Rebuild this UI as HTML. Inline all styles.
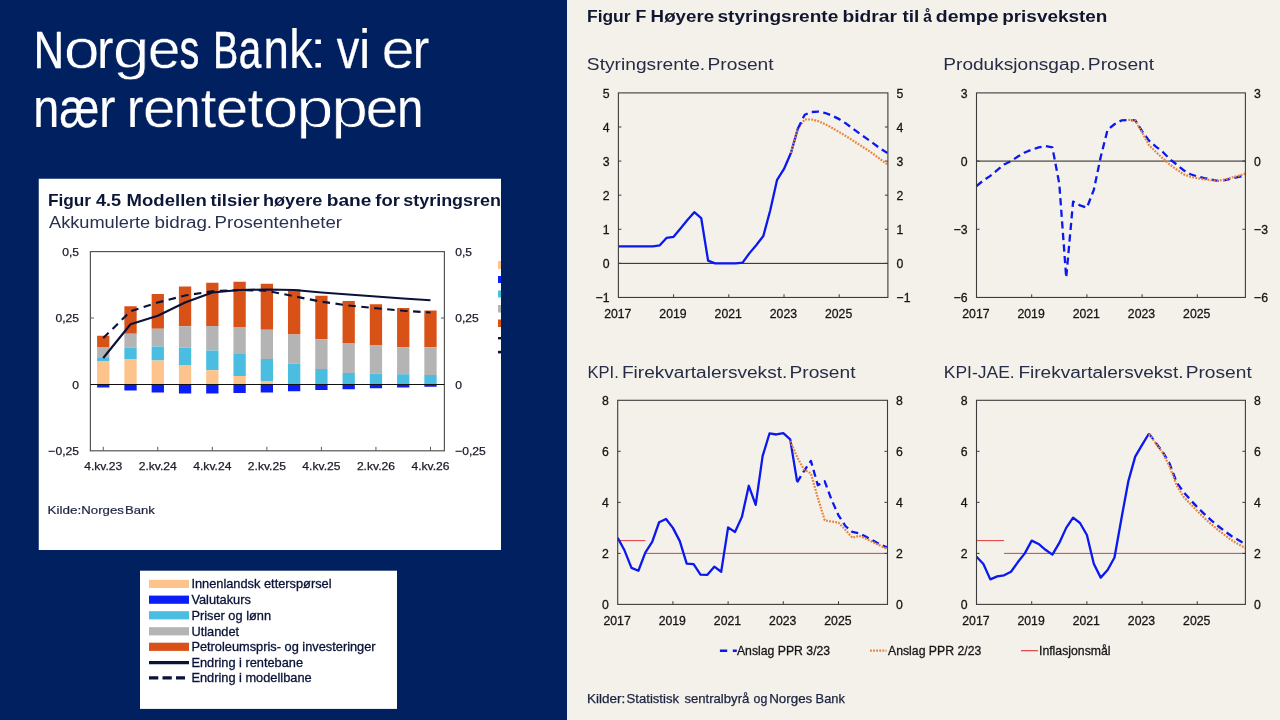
<!DOCTYPE html>
<html lang="no"><head><meta charset="utf-8"><title>Norges Bank: vi er nær rentetoppen</title>
<style>
html,body{margin:0;padding:0;width:1280px;height:720px;overflow:hidden;background:#002060;}
svg{display:block;position:absolute;left:0;top:0;font-family:"Liberation Sans", sans-serif;}
</style></head><body>
<svg width="1280" height="720" viewBox="0 0 1280 720">
<rect x="0" y="0" width="1280" height="720" fill="#002060"/>
<rect x="567" y="0" width="713" height="720" fill="#f4f1ea"/>
<rect x="38.75" y="178.75" width="462.25" height="371.25" fill="#ffffff"/>
<rect x="140" y="570.7" width="257" height="138.2" fill="#ffffff"/>
<text y="68.4" font-size="55" fill="#ffffff" stroke-linejoin="round"><tspan x="33.81" font-size="52.5" stroke="#ffffff" stroke-width="0.47" textLength="30.21" lengthAdjust="spacingAndGlyphs">N</tspan><tspan x="63.65" stroke="#002060" stroke-width="0.68" textLength="36.01" lengthAdjust="spacingAndGlyphs">o</tspan><tspan x="97.29" stroke="#ffffff" stroke-width="0.14" textLength="16.1" lengthAdjust="spacingAndGlyphs">r</tspan><tspan x="112.69" stroke="#002060" stroke-width="0.76" textLength="36.83" lengthAdjust="spacingAndGlyphs">g</tspan><tspan x="147.75" stroke="#002060" stroke-width="0.39" textLength="32.83" lengthAdjust="spacingAndGlyphs">e</tspan><tspan x="179.68" stroke="#ffffff" stroke-width="0.62" textLength="19.48" lengthAdjust="spacingAndGlyphs">s</tspan><tspan> </tspan><tspan x="213.26" font-size="52.5" stroke="#ffffff" stroke-width="0.70" textLength="24.9" lengthAdjust="spacingAndGlyphs">B</tspan><tspan x="238.83" stroke="#ffffff" stroke-width="0.54" textLength="22.47" lengthAdjust="spacingAndGlyphs">a</tspan><tspan x="263.48" stroke="#ffffff" stroke-width="0.28" textLength="25.41" lengthAdjust="spacingAndGlyphs">n</tspan><tspan x="289.31" stroke="#ffffff" stroke-width="0.23" textLength="23.32" lengthAdjust="spacingAndGlyphs">k</tspan><tspan x="307.8" stroke="#002060" stroke-width="1.19" textLength="20.78" lengthAdjust="spacingAndGlyphs">:</tspan><tspan> </tspan><tspan x="336.8" stroke="#ffffff" stroke-width="0.31" textLength="22.51" lengthAdjust="spacingAndGlyphs">v</tspan><tspan x="359.12" textLength="11.26" lengthAdjust="spacingAndGlyphs">i</tspan><tspan> </tspan><tspan x="381.53" stroke="#002060" stroke-width="0.43" textLength="33.18" lengthAdjust="spacingAndGlyphs">e</tspan><tspan x="412.7" stroke="#ffffff" stroke-width="0.09" textLength="16.5" lengthAdjust="spacingAndGlyphs">r</tspan></text>
<text y="126.7" font-size="55" fill="#ffffff" stroke-linejoin="round"><tspan x="33.21" stroke="#ffffff" stroke-width="0.23" textLength="25.94" lengthAdjust="spacingAndGlyphs">n</tspan><tspan x="59.48" stroke="#ffffff" stroke-width="0.33" textLength="39.67" lengthAdjust="spacingAndGlyphs">æ</tspan><tspan x="98.9" stroke="#ffffff" stroke-width="0.09" textLength="16.5" lengthAdjust="spacingAndGlyphs">r</tspan><tspan> </tspan><tspan x="127.0" stroke="#ffffff" stroke-width="0.09" textLength="16.5" lengthAdjust="spacingAndGlyphs">r</tspan><tspan x="142.97" stroke="#002060" stroke-width="0.37" textLength="32.59" lengthAdjust="spacingAndGlyphs">e</tspan><tspan x="174.27" stroke="#ffffff" stroke-width="0.24" textLength="25.87" lengthAdjust="spacingAndGlyphs">n</tspan><tspan x="200.78" stroke="#002060" stroke-width="0.25" textLength="15.61" lengthAdjust="spacingAndGlyphs">t</tspan><tspan x="215.87" stroke="#002060" stroke-width="0.37" textLength="32.59" lengthAdjust="spacingAndGlyphs">e</tspan><tspan x="247.46" stroke="#002060" stroke-width="0.31" textLength="15.94" lengthAdjust="spacingAndGlyphs">t</tspan><tspan x="262.67" stroke="#002060" stroke-width="0.66" textLength="35.71" lengthAdjust="spacingAndGlyphs">o</tspan><tspan x="296.15" stroke="#002060" stroke-width="0.79" textLength="37.2" lengthAdjust="spacingAndGlyphs">p</tspan><tspan x="331.19" stroke="#002060" stroke-width="0.76" textLength="36.83" lengthAdjust="spacingAndGlyphs">p</tspan><tspan x="365.49" stroke="#002060" stroke-width="0.41" textLength="33.01" lengthAdjust="spacingAndGlyphs">e</tspan><tspan x="397.31" stroke="#ffffff" stroke-width="0.23" textLength="25.94" lengthAdjust="spacingAndGlyphs">n</tspan></text>
<svg x="38.75" y="178.75" width="462.25" height="371.25" viewBox="38.75 178.75 462.25 371.25">
<text x="47.96" y="205.75" font-size="16.6" font-weight="700" textLength="43.14" lengthAdjust="spacingAndGlyphs" fill="#0c1738">Figur</text>
<text x="95.9" y="205.75" font-size="16.6" font-weight="700" textLength="25.19" lengthAdjust="spacingAndGlyphs" fill="#0c1738">4.5</text>
<text x="126.63" y="205.75" font-size="16.6" font-weight="700" textLength="80.3" lengthAdjust="spacingAndGlyphs" fill="#0c1738">Modellen</text>
<text x="210.6" y="205.75" font-size="16.6" font-weight="700" textLength="49.11" lengthAdjust="spacingAndGlyphs" fill="#0c1738">tilsier</text>
<text x="263.01" y="205.75" font-size="16.6" font-weight="700" textLength="59.35" lengthAdjust="spacingAndGlyphs" fill="#0c1738">høyere</text>
<text x="326.75" y="205.75" font-size="16.6" font-weight="700" textLength="44.7" lengthAdjust="spacingAndGlyphs" fill="#0c1738">bane</text>
<text x="375.3" y="205.75" font-size="16.6" font-weight="700" textLength="24.54" lengthAdjust="spacingAndGlyphs" fill="#0c1738">for</text>
<text x="403.32" y="205.75" font-size="16.6" font-weight="700" textLength="124.46" lengthAdjust="spacingAndGlyphs" fill="#0c1738">styringsrenten</text>
<text x="49.0" y="228.25" font-size="16" textLength="101.15" lengthAdjust="spacingAndGlyphs" fill="#27304f">Akkumulerte</text>
<text x="154.52" y="228.25" font-size="16" textLength="57.56" lengthAdjust="spacingAndGlyphs" fill="#27304f">bidrag.</text>
<text x="214.53" y="228.25" font-size="16" textLength="127.54" lengthAdjust="spacingAndGlyphs" fill="#27304f">Prosentenheter</text>
<rect x="498" y="261" width="6" height="8" fill="#fcc48c"/>
<rect x="498" y="276" width="6" height="7" fill="#0a1ef5"/>
<rect x="498" y="290.5" width="6" height="7.0" fill="#4bbde0"/>
<rect x="498" y="305" width="6" height="7.5" fill="#b4b4b4"/>
<rect x="498" y="319.5" width="6" height="7.5" fill="#d85218"/>
<rect x="498" y="337" width="6" height="2.4" fill="#0a1238"/><rect x="498" y="350.8" width="6" height="2.6" fill="#0a1238"/>
</svg>
<rect x="97.10" y="335.75" width="12.3" height="11.25" fill="#d85218"/>
<rect x="97.10" y="347.00" width="12.3" height="11.00" fill="#b4b4b4"/>
<rect x="97.10" y="358.00" width="12.3" height="3.50" fill="#4bbde0"/>
<rect x="97.10" y="361.50" width="12.3" height="23.00" fill="#fcc48c"/>
<rect x="97.10" y="384.50" width="12.3" height="3.00" fill="#0a1ef5"/>
<rect x="124.37" y="306.25" width="12.3" height="27.50" fill="#d85218"/>
<rect x="124.37" y="333.75" width="12.3" height="14.00" fill="#b4b4b4"/>
<rect x="124.37" y="347.75" width="12.3" height="11.25" fill="#4bbde0"/>
<rect x="124.37" y="359.00" width="12.3" height="25.50" fill="#fcc48c"/>
<rect x="124.37" y="384.50" width="12.3" height="6.00" fill="#0a1ef5"/>
<rect x="151.64" y="294.00" width="12.3" height="34.75" fill="#d85218"/>
<rect x="151.64" y="328.75" width="12.3" height="17.75" fill="#b4b4b4"/>
<rect x="151.64" y="346.50" width="12.3" height="14.00" fill="#4bbde0"/>
<rect x="151.64" y="360.50" width="12.3" height="24.00" fill="#fcc48c"/>
<rect x="151.64" y="384.50" width="12.3" height="8.00" fill="#0a1ef5"/>
<rect x="178.91" y="286.50" width="12.3" height="39.75" fill="#d85218"/>
<rect x="178.91" y="326.25" width="12.3" height="21.50" fill="#b4b4b4"/>
<rect x="178.91" y="347.75" width="12.3" height="17.25" fill="#4bbde0"/>
<rect x="178.91" y="365.00" width="12.3" height="19.50" fill="#fcc48c"/>
<rect x="178.91" y="384.50" width="12.3" height="9.00" fill="#0a1ef5"/>
<rect x="206.18" y="282.75" width="12.3" height="43.25" fill="#d85218"/>
<rect x="206.18" y="326.00" width="12.3" height="24.50" fill="#b4b4b4"/>
<rect x="206.18" y="350.50" width="12.3" height="19.75" fill="#4bbde0"/>
<rect x="206.18" y="370.25" width="12.3" height="14.25" fill="#fcc48c"/>
<rect x="206.18" y="384.50" width="12.3" height="9.00" fill="#0a1ef5"/>
<rect x="233.45" y="281.75" width="12.3" height="45.25" fill="#d85218"/>
<rect x="233.45" y="327.00" width="12.3" height="27.00" fill="#b4b4b4"/>
<rect x="233.45" y="354.00" width="12.3" height="22.00" fill="#4bbde0"/>
<rect x="233.45" y="376.00" width="12.3" height="8.50" fill="#fcc48c"/>
<rect x="233.45" y="384.50" width="12.3" height="8.50" fill="#0a1ef5"/>
<rect x="260.72" y="283.75" width="12.3" height="46.00" fill="#d85218"/>
<rect x="260.72" y="329.75" width="12.3" height="29.25" fill="#b4b4b4"/>
<rect x="260.72" y="359.00" width="12.3" height="22.00" fill="#4bbde0"/>
<rect x="260.72" y="381.00" width="12.3" height="3.50" fill="#fcc48c"/>
<rect x="260.72" y="384.50" width="12.3" height="8.00" fill="#0a1ef5"/>
<rect x="287.99" y="289.25" width="12.3" height="45.25" fill="#d85218"/>
<rect x="287.99" y="334.50" width="12.3" height="29.25" fill="#b4b4b4"/>
<rect x="287.99" y="363.75" width="12.3" height="20.75" fill="#4bbde0"/>
<rect x="287.99" y="384.50" width="12.3" height="6.75" fill="#0a1ef5"/>
<rect x="315.26" y="295.75" width="12.3" height="43.50" fill="#d85218"/>
<rect x="315.26" y="339.25" width="12.3" height="29.75" fill="#b4b4b4"/>
<rect x="315.26" y="369.00" width="12.3" height="15.50" fill="#4bbde0"/>
<rect x="315.26" y="384.50" width="12.3" height="5.50" fill="#0a1ef5"/>
<rect x="342.53" y="301.00" width="12.3" height="42.00" fill="#d85218"/>
<rect x="342.53" y="343.00" width="12.3" height="30.00" fill="#b4b4b4"/>
<rect x="342.53" y="373.00" width="12.3" height="11.50" fill="#4bbde0"/>
<rect x="342.53" y="384.50" width="12.3" height="4.75" fill="#0a1ef5"/>
<rect x="369.80" y="304.25" width="12.3" height="41.25" fill="#d85218"/>
<rect x="369.80" y="345.50" width="12.3" height="28.00" fill="#b4b4b4"/>
<rect x="369.80" y="373.50" width="12.3" height="11.00" fill="#4bbde0"/>
<rect x="369.80" y="384.50" width="12.3" height="3.75" fill="#0a1ef5"/>
<rect x="397.07" y="308.00" width="12.3" height="39.25" fill="#d85218"/>
<rect x="397.07" y="347.25" width="12.3" height="27.00" fill="#b4b4b4"/>
<rect x="397.07" y="374.25" width="12.3" height="10.25" fill="#4bbde0"/>
<rect x="397.07" y="384.50" width="12.3" height="3.00" fill="#0a1ef5"/>
<rect x="424.34" y="310.50" width="12.3" height="36.75" fill="#d85218"/>
<rect x="424.34" y="347.25" width="12.3" height="27.75" fill="#b4b4b4"/>
<rect x="424.34" y="375.00" width="12.3" height="9.50" fill="#4bbde0"/>
<rect x="424.34" y="384.50" width="12.3" height="2.25" fill="#0a1ef5"/>
<rect x="90.4" y="251.6" width="354.0" height="199.20000000000002" fill="none" stroke="#555" stroke-width="1.2"/>
<line x1="90.4" y1="384.5" x2="444.4" y2="384.5" stroke="#111" stroke-width="1.1"/>
<path d="M90.4 318h3.5M444.4 318h-3.5" stroke="#5a5a5a" stroke-width="1" fill="none"/>
<line x1="103.25" y1="450.8" x2="103.25" y2="446.8" stroke="#5a5a5a" stroke-width="1"/>
<line x1="157.79" y1="450.8" x2="157.79" y2="446.8" stroke="#5a5a5a" stroke-width="1"/>
<line x1="212.33" y1="450.8" x2="212.33" y2="446.8" stroke="#5a5a5a" stroke-width="1"/>
<line x1="266.87" y1="450.8" x2="266.87" y2="446.8" stroke="#5a5a5a" stroke-width="1"/>
<line x1="321.41" y1="450.8" x2="321.41" y2="446.8" stroke="#5a5a5a" stroke-width="1"/>
<line x1="375.95" y1="450.8" x2="375.95" y2="446.8" stroke="#5a5a5a" stroke-width="1"/>
<line x1="430.49" y1="450.8" x2="430.49" y2="446.8" stroke="#5a5a5a" stroke-width="1"/>
<polyline points="103.25,358.00 130.52,324.25 157.79,315.75 185.06,302.50 212.33,292.50 239.60,290.00 266.87,289.50 294.14,290.00 321.41,292.50 348.68,294.50 375.95,296.50 403.22,298.50 430.49,300.25" fill="none" stroke="#0a1238" stroke-width="2.15" stroke-linejoin="round"/>
<polyline points="103.25,338.00 130.52,311.25 157.79,302.50 185.06,295.50 212.33,291.25 239.60,290.00 266.87,290.75 294.14,296.25 321.41,301.75 348.68,305.50 375.95,308.25 403.22,310.75 430.49,312.50" fill="none" stroke="#0a1238" stroke-width="2.15" stroke-dasharray="7.5 5.5" stroke-linejoin="round"/>
<text x="79" y="256.1" font-size="11.5" text-anchor="end" textLength="16.81" lengthAdjust="spacingAndGlyphs" fill="#1a1a2a" stroke="#1a1a2a" stroke-width="0.25">0,5</text>
<text x="455.2" y="256.1" font-size="11.5" textLength="16.81" lengthAdjust="spacingAndGlyphs" fill="#1a1a2a" stroke="#1a1a2a" stroke-width="0.25">0,5</text>
<text x="79" y="322.3" font-size="11.5" text-anchor="end" textLength="23.55" lengthAdjust="spacingAndGlyphs" fill="#1a1a2a" stroke="#1a1a2a" stroke-width="0.25">0,25</text>
<text x="455.2" y="322.3" font-size="11.5" textLength="23.55" lengthAdjust="spacingAndGlyphs" fill="#1a1a2a" stroke="#1a1a2a" stroke-width="0.25">0,25</text>
<text x="79" y="388.8" font-size="11.5" text-anchor="end" textLength="6.73" lengthAdjust="spacingAndGlyphs" fill="#1a1a2a" stroke="#1a1a2a" stroke-width="0.25">0</text>
<text x="455.2" y="388.8" font-size="11.5" textLength="6.73" lengthAdjust="spacingAndGlyphs" fill="#1a1a2a" stroke="#1a1a2a" stroke-width="0.25">0</text>
<text x="79" y="455.3" font-size="11.5" text-anchor="end" textLength="30.61" lengthAdjust="spacingAndGlyphs" fill="#1a1a2a" stroke="#1a1a2a" stroke-width="0.25">−0,25</text>
<text x="455.2" y="455.3" font-size="11.5" textLength="30.61" lengthAdjust="spacingAndGlyphs" fill="#1a1a2a" stroke="#1a1a2a" stroke-width="0.25">−0,25</text>
<text x="103.25" y="470.2" font-size="11.5" text-anchor="middle" textLength="38.09" lengthAdjust="spacingAndGlyphs" fill="#1a1a2a" stroke="#1a1a2a" stroke-width="0.25">4.kv.23</text>
<text x="157.79" y="470.2" font-size="11.5" text-anchor="middle" textLength="38.09" lengthAdjust="spacingAndGlyphs" fill="#1a1a2a" stroke="#1a1a2a" stroke-width="0.25">2.kv.24</text>
<text x="212.33" y="470.2" font-size="11.5" text-anchor="middle" textLength="38.09" lengthAdjust="spacingAndGlyphs" fill="#1a1a2a" stroke="#1a1a2a" stroke-width="0.25">4.kv.24</text>
<text x="266.87" y="470.2" font-size="11.5" text-anchor="middle" textLength="38.09" lengthAdjust="spacingAndGlyphs" fill="#1a1a2a" stroke="#1a1a2a" stroke-width="0.25">2.kv.25</text>
<text x="321.41" y="470.2" font-size="11.5" text-anchor="middle" textLength="38.09" lengthAdjust="spacingAndGlyphs" fill="#1a1a2a" stroke="#1a1a2a" stroke-width="0.25">4.kv.25</text>
<text x="375.95" y="470.2" font-size="11.5" text-anchor="middle" textLength="38.09" lengthAdjust="spacingAndGlyphs" fill="#1a1a2a" stroke="#1a1a2a" stroke-width="0.25">2.kv.26</text>
<text x="430.49" y="470.2" font-size="11.5" text-anchor="middle" textLength="38.09" lengthAdjust="spacingAndGlyphs" fill="#1a1a2a" stroke="#1a1a2a" stroke-width="0.25">4.kv.26</text>
<text x="47.55" y="513.75" font-size="11.2" textLength="33.65" lengthAdjust="spacingAndGlyphs" fill="#1c2340" stroke="#1c2340" stroke-width="0.2">Kilde:</text>
<text x="81.32" y="513.75" font-size="11.2" textLength="42.52" lengthAdjust="spacingAndGlyphs" fill="#1c2340" stroke="#1c2340" stroke-width="0.2">Norges</text>
<text x="125.08" y="513.75" font-size="11.2" textLength="29.75" lengthAdjust="spacingAndGlyphs" fill="#1c2340" stroke="#1c2340" stroke-width="0.2">Bank</text>
<rect x="149" y="579.80" width="40" height="8.2" fill="#fcc48c"/>
<text x="191.4" y="588.2" font-size="12.8" fill="#0a1238" stroke="#0a1238" stroke-width="0.3">Innenlandsk etterspørsel</text>
<rect x="149" y="595.60" width="40" height="8.2" fill="#0a1ef5"/>
<text x="191.4" y="604" font-size="12.8" fill="#0a1238" stroke="#0a1238" stroke-width="0.3">Valutakurs</text>
<rect x="149" y="611.20" width="40" height="8.2" fill="#4bbde0"/>
<text x="191.4" y="619.6" font-size="12.8" fill="#0a1238" stroke="#0a1238" stroke-width="0.3">Priser og lønn</text>
<rect x="149" y="627.20" width="40" height="8.2" fill="#b4b4b4"/>
<text x="191.4" y="635.6" font-size="12.8" fill="#0a1238" stroke="#0a1238" stroke-width="0.3">Utlandet</text>
<rect x="149" y="642.70" width="40" height="8.2" fill="#d85218"/>
<text x="191.4" y="651.1" font-size="12.8" fill="#0a1238" stroke="#0a1238" stroke-width="0.3">Petroleumspris- og investeringer</text>
<line x1="149" y1="662.6" x2="189" y2="662.6" stroke="#0a1238" stroke-width="3.2"/>
<text x="191.4" y="666.7" font-size="12.8" fill="#0a1238" stroke="#0a1238" stroke-width="0.3">Endring i rentebane</text>
<line x1="149" y1="677.9000000000001" x2="185" y2="677.9000000000001" stroke="#0a1238" stroke-width="3.2" stroke-dasharray="9.3 4.2"/>
<text x="191.4" y="682.2" font-size="12.8" fill="#0a1238" stroke="#0a1238" stroke-width="0.3">Endring i modellbane</text>
<text x="586.99" y="21.8" font-size="17.2" font-weight="700" textLength="43.58" lengthAdjust="spacingAndGlyphs" fill="#10162f">Figur</text>
<text x="635.47" y="21.8" font-size="17.2" font-weight="700" textLength="10.85" lengthAdjust="spacingAndGlyphs" fill="#10162f">F</text>
<text x="650.61" y="21.8" font-size="17.2" font-weight="700" textLength="63.6" lengthAdjust="spacingAndGlyphs" fill="#10162f">Høyere</text>
<text x="717.49" y="21.8" font-size="17.2" font-weight="700" textLength="120.8" lengthAdjust="spacingAndGlyphs" fill="#10162f">styringsrente</text>
<text x="842.48" y="21.8" font-size="17.2" font-weight="700" textLength="54.5" lengthAdjust="spacingAndGlyphs" fill="#10162f">bidrar</text>
<text x="902.5" y="21.8" font-size="17.2" font-weight="700" textLength="16.81" lengthAdjust="spacingAndGlyphs" fill="#10162f">til</text>
<text x="923.3" y="21.8" font-size="17.2" font-weight="700" textLength="8.7" lengthAdjust="spacingAndGlyphs" fill="#10162f">å</text>
<text x="935.77" y="21.8" font-size="17.2" font-weight="700" textLength="62.79" lengthAdjust="spacingAndGlyphs" fill="#10162f">dempe</text>
<text x="1002.2" y="21.8" font-size="17.2" font-weight="700" textLength="105.2" lengthAdjust="spacingAndGlyphs" fill="#10162f">prisveksten</text>
<text x="586.89" y="69.7" font-size="17.3" textLength="118.31" lengthAdjust="spacingAndGlyphs" fill="#262c46">Styringsrente.</text>
<text x="707.59" y="69.7" font-size="17.3" textLength="66.03" lengthAdjust="spacingAndGlyphs" fill="#262c46">Prosent</text>
<text x="943.3" y="69.7" font-size="17.3" textLength="142.22" lengthAdjust="spacingAndGlyphs" fill="#262c46">Produksjonsgap.</text>
<text x="1087.89" y="69.7" font-size="17.3" textLength="66.24" lengthAdjust="spacingAndGlyphs" fill="#262c46">Prosent</text>
<text x="587.54" y="378.3" font-size="17.3" textLength="31.24" lengthAdjust="spacingAndGlyphs" fill="#262c46">KPI.</text>
<text x="621.9" y="378.3" font-size="17.3" textLength="165.41" lengthAdjust="spacingAndGlyphs" fill="#262c46">Firekvartalersvekst.</text>
<text x="789.49" y="378.3" font-size="17.3" textLength="66.03" lengthAdjust="spacingAndGlyphs" fill="#262c46">Prosent</text>
<text x="943.79" y="378.3" font-size="17.3" textLength="70.93" lengthAdjust="spacingAndGlyphs" fill="#262c46">KPI-JAE.</text>
<text x="1018.4" y="378.3" font-size="17.3" textLength="165.1" lengthAdjust="spacingAndGlyphs" fill="#262c46">Firekvartalersvekst.</text>
<text x="1185.69" y="378.3" font-size="17.3" textLength="66.03" lengthAdjust="spacingAndGlyphs" fill="#262c46">Prosent</text>
<line x1="618.4" y1="263.36" x2="887.9" y2="263.36" stroke="#222" stroke-width="1"/>
<svg x="618.4" y="90.9" width="269.5" height="208.54999999999998" viewBox="618.4 90.9 269.5 208.54999999999998">
<polyline points="618.40,246.31 625.30,246.31 632.20,246.31 639.10,246.31 646.00,246.31 652.90,246.31 659.80,245.29 666.70,237.79 673.60,236.77 680.50,228.58 687.40,220.06 694.30,212.22 701.20,218.02 708.10,260.63 715.00,263.36 721.90,263.36 728.80,263.36 735.70,263.36 742.60,262.68 749.50,253.13 756.40,244.95 763.30,236.08 770.20,210.52 777.10,179.83 784.00,168.92 790.90,153.07 797.80,128.70" fill="none" stroke="#0b18ee" stroke-width="2.3" stroke-linejoin="round" stroke-linecap="butt"/>
<polyline points="790.90,153.07 797.80,128.70 804.70,119.49 811.60,119.49 818.50,121.20 825.40,124.26 832.30,128.01 839.20,132.11 846.10,136.20 853.00,140.63 859.90,145.06 866.80,149.49 873.70,154.26 880.60,159.38 887.50,164.49" fill="none" stroke="#e8823a" stroke-width="2.2" stroke-dasharray="1.8 1.3" stroke-linejoin="round"/>
<polyline points="797.80,128.70 804.70,114.72 811.60,111.99 818.50,111.65 825.40,113.01 832.30,115.74 839.20,119.15 846.10,123.58 853.00,128.70 859.90,133.81 866.80,138.58 873.70,143.70 880.60,148.81 887.50,153.07" fill="none" stroke="#0b18ee" stroke-width="2.3" stroke-dasharray="7.2 4.4" stroke-linejoin="round"/>
</svg>
<rect x="618.4" y="92.9" width="269.5" height="204.54999999999998" fill="none" stroke="#3c3c3c" stroke-width="1.1"/>
<text x="609.6" y="302.20" font-size="13.2" text-anchor="end" textLength="13.97" lengthAdjust="spacingAndGlyphs" fill="#151515" stroke="#151515" stroke-width="0.3">−1</text>
<text x="896.5" y="302.20" font-size="13.2" textLength="13.97" lengthAdjust="spacingAndGlyphs" fill="#151515" stroke="#151515" stroke-width="0.3">−1</text>
<text x="609.6" y="268.11" font-size="13.2" text-anchor="end" textLength="6.83" lengthAdjust="spacingAndGlyphs" fill="#151515" stroke="#151515" stroke-width="0.3">0</text>
<text x="896.5" y="268.11" font-size="13.2" textLength="6.83" lengthAdjust="spacingAndGlyphs" fill="#151515" stroke="#151515" stroke-width="0.3">0</text>
<text x="609.6" y="234.02" font-size="13.2" text-anchor="end" textLength="6.83" lengthAdjust="spacingAndGlyphs" fill="#151515" stroke="#151515" stroke-width="0.3">1</text>
<text x="896.5" y="234.02" font-size="13.2" textLength="6.83" lengthAdjust="spacingAndGlyphs" fill="#151515" stroke="#151515" stroke-width="0.3">1</text>
<text x="609.6" y="199.93" font-size="13.2" text-anchor="end" textLength="6.83" lengthAdjust="spacingAndGlyphs" fill="#151515" stroke="#151515" stroke-width="0.3">2</text>
<text x="896.5" y="199.93" font-size="13.2" textLength="6.83" lengthAdjust="spacingAndGlyphs" fill="#151515" stroke="#151515" stroke-width="0.3">2</text>
<text x="609.6" y="165.83" font-size="13.2" text-anchor="end" textLength="6.83" lengthAdjust="spacingAndGlyphs" fill="#151515" stroke="#151515" stroke-width="0.3">3</text>
<text x="896.5" y="165.83" font-size="13.2" textLength="6.83" lengthAdjust="spacingAndGlyphs" fill="#151515" stroke="#151515" stroke-width="0.3">3</text>
<text x="609.6" y="131.74" font-size="13.2" text-anchor="end" textLength="6.83" lengthAdjust="spacingAndGlyphs" fill="#151515" stroke="#151515" stroke-width="0.3">4</text>
<text x="896.5" y="131.74" font-size="13.2" textLength="6.83" lengthAdjust="spacingAndGlyphs" fill="#151515" stroke="#151515" stroke-width="0.3">4</text>
<text x="609.6" y="97.65" font-size="13.2" text-anchor="end" textLength="6.83" lengthAdjust="spacingAndGlyphs" fill="#151515" stroke="#151515" stroke-width="0.3">5</text>
<text x="896.5" y="97.65" font-size="13.2" textLength="6.83" lengthAdjust="spacingAndGlyphs" fill="#151515" stroke="#151515" stroke-width="0.3">5</text>
<text x="617.80" y="317.75" font-size="13.2" text-anchor="middle" textLength="27.27" lengthAdjust="spacingAndGlyphs" fill="#151515" stroke="#151515" stroke-width="0.3">2017</text>
<text x="673.00" y="317.75" font-size="13.2" text-anchor="middle" textLength="27.27" lengthAdjust="spacingAndGlyphs" fill="#151515" stroke="#151515" stroke-width="0.3">2019</text>
<text x="728.20" y="317.75" font-size="13.2" text-anchor="middle" textLength="27.27" lengthAdjust="spacingAndGlyphs" fill="#151515" stroke="#151515" stroke-width="0.3">2021</text>
<text x="783.40" y="317.75" font-size="13.2" text-anchor="middle" textLength="27.27" lengthAdjust="spacingAndGlyphs" fill="#151515" stroke="#151515" stroke-width="0.3">2023</text>
<text x="838.60" y="317.75" font-size="13.2" text-anchor="middle" textLength="27.27" lengthAdjust="spacingAndGlyphs" fill="#151515" stroke="#151515" stroke-width="0.3">2025</text>
<path d="M618.4 263.36h3M887.9 263.36h-3M618.4 229.27h3M887.9 229.27h-3M618.4 195.18h3M887.9 195.18h-3M618.4 161.08h3M887.9 161.08h-3M618.4 126.99h3M887.9 126.99h-3M673.60 297.45v-3.2M728.80 297.45v-3.2M784.00 297.45v-3.2M839.20 297.45v-3.2" stroke="#3c3c3c" stroke-width="1" fill="none"/>
<line x1="976.5" y1="161.08" x2="1245.4" y2="161.08" stroke="#222" stroke-width="1"/>
<svg x="976.5" y="90.9" width="268.9000000000001" height="208.54999999999998" viewBox="976.5 90.9 268.9000000000001 208.54999999999998">
<polyline points="976.50,186.08 983.40,180.40 990.30,175.86 997.20,170.17 1004.10,164.49 1011.00,161.08 1017.90,156.54 1024.80,152.45 1031.70,149.72 1038.60,147.45 1045.50,146.08 1052.40,147.45 1059.30,183.81 1066.20,277.68 1073.10,201.54 1080.00,205.40 1086.90,207.68 1093.80,189.95 1100.70,156.99 1107.60,129.72 1114.50,124.26 1121.40,120.40 1128.30,119.95 1135.20,120.17 1142.10,131.08 1149.00,140.63 1155.90,146.54 1162.80,151.99 1169.70,159.04 1176.60,164.49 1183.50,170.17 1190.40,174.27 1197.30,176.42 1204.20,178.13 1211.10,179.49 1218.00,180.86 1224.90,180.17 1231.80,178.58 1238.70,176.99 1245.60,175.63" fill="none" stroke="#0b18ee" stroke-width="2.3" stroke-dasharray="7.2 4.4" stroke-linejoin="round"/>
<polyline points="1128.30,119.95 1135.20,120.17 1142.10,132.45 1149.00,145.17 1155.90,151.99 1162.80,158.36 1169.70,164.49 1176.60,169.49 1183.50,174.27 1190.40,176.77 1197.30,178.13 1204.20,179.27 1211.10,180.17 1218.00,180.86 1224.90,179.49 1231.80,177.45 1238.70,175.63 1245.60,173.58" fill="none" stroke="#e8823a" stroke-width="2.2" stroke-dasharray="1.8 1.3" stroke-linejoin="round"/>
</svg>
<rect x="976.5" y="92.9" width="268.9000000000001" height="204.54999999999998" fill="none" stroke="#3c3c3c" stroke-width="1.1"/>
<text x="967.7" y="302.20" font-size="13.2" text-anchor="end" textLength="13.97" lengthAdjust="spacingAndGlyphs" fill="#151515" stroke="#151515" stroke-width="0.3">−6</text>
<text x="1254.0" y="302.20" font-size="13.2" textLength="13.97" lengthAdjust="spacingAndGlyphs" fill="#151515" stroke="#151515" stroke-width="0.3">−6</text>
<text x="967.7" y="234.02" font-size="13.2" text-anchor="end" textLength="13.97" lengthAdjust="spacingAndGlyphs" fill="#151515" stroke="#151515" stroke-width="0.3">−3</text>
<text x="1254.0" y="234.02" font-size="13.2" textLength="13.97" lengthAdjust="spacingAndGlyphs" fill="#151515" stroke="#151515" stroke-width="0.3">−3</text>
<text x="967.7" y="165.83" font-size="13.2" text-anchor="end" textLength="6.83" lengthAdjust="spacingAndGlyphs" fill="#151515" stroke="#151515" stroke-width="0.3">0</text>
<text x="1254.0" y="165.83" font-size="13.2" textLength="6.83" lengthAdjust="spacingAndGlyphs" fill="#151515" stroke="#151515" stroke-width="0.3">0</text>
<text x="967.7" y="97.65" font-size="13.2" text-anchor="end" textLength="6.83" lengthAdjust="spacingAndGlyphs" fill="#151515" stroke="#151515" stroke-width="0.3">3</text>
<text x="1254.0" y="97.65" font-size="13.2" textLength="6.83" lengthAdjust="spacingAndGlyphs" fill="#151515" stroke="#151515" stroke-width="0.3">3</text>
<text x="975.90" y="317.75" font-size="13.2" text-anchor="middle" textLength="27.27" lengthAdjust="spacingAndGlyphs" fill="#151515" stroke="#151515" stroke-width="0.3">2017</text>
<text x="1031.10" y="317.75" font-size="13.2" text-anchor="middle" textLength="27.27" lengthAdjust="spacingAndGlyphs" fill="#151515" stroke="#151515" stroke-width="0.3">2019</text>
<text x="1086.30" y="317.75" font-size="13.2" text-anchor="middle" textLength="27.27" lengthAdjust="spacingAndGlyphs" fill="#151515" stroke="#151515" stroke-width="0.3">2021</text>
<text x="1141.50" y="317.75" font-size="13.2" text-anchor="middle" textLength="27.27" lengthAdjust="spacingAndGlyphs" fill="#151515" stroke="#151515" stroke-width="0.3">2023</text>
<text x="1196.70" y="317.75" font-size="13.2" text-anchor="middle" textLength="27.27" lengthAdjust="spacingAndGlyphs" fill="#151515" stroke="#151515" stroke-width="0.3">2025</text>
<path d="M976.5 229.27h3M1245.4 229.27h-3M976.5 161.08h3M1245.4 161.08h-3M1031.70 297.45v-3.2M1086.90 297.45v-3.2M1142.10 297.45v-3.2M1197.30 297.45v-3.2" stroke="#3c3c3c" stroke-width="1" fill="none"/>
<path d="M617.70 540.62H645.30M645.30 553.38H887.5" stroke="#e23030" stroke-width="0.95" fill="none"/>
<svg x="617.7" y="398.3" width="269.79999999999995" height="208.09999999999997" viewBox="617.7 398.3 269.79999999999995 208.09999999999997">
<polyline points="617.70,537.81 624.60,550.57 631.50,567.92 638.40,570.72 645.30,552.61 652.20,541.89 659.10,522.25 666.00,518.93 672.90,527.86 679.80,541.13 686.70,563.58 693.60,564.09 700.50,574.55 707.40,574.81 714.30,566.64 721.20,571.74 728.10,527.35 735.00,531.94 741.90,516.89 748.80,485.77 755.70,504.90 762.60,456.17 769.50,433.47 776.40,434.49 783.30,433.21 790.20,439.33 797.10,481.43" fill="none" stroke="#0b18ee" stroke-width="2.3" stroke-linejoin="round" stroke-linecap="butt"/>
<polyline points="797.10,482.30 804.00,471.00 810.90,460.90 817.80,485.20 824.70,481.30 831.60,499.80 838.50,515.30 845.40,526.00 852.30,531.90 859.20,533.40 866.10,536.70 873.00,540.60 879.90,544.50 886.80,547.40" fill="none" stroke="#0b18ee" stroke-width="2.3" stroke-dasharray="7.2 4.4" stroke-linejoin="round"/>
<polyline points="790.20,441.00 797.10,457.00 804.00,469.60 810.90,473.50 817.80,497.80 824.70,520.20 831.60,521.60 838.50,522.50 845.40,529.90 852.30,537.70 859.20,535.80 866.10,538.70 873.00,542.20 879.90,545.50 886.80,548.80" fill="none" stroke="#e8823a" stroke-width="2.2" stroke-dasharray="1.8 1.3" stroke-linejoin="round"/>
</svg>
<rect x="617.7" y="400.3" width="269.79999999999995" height="204.09999999999997" fill="none" stroke="#3c3c3c" stroke-width="1.1"/>
<text x="608.9000000000001" y="609.15" font-size="13.2" text-anchor="end" textLength="6.83" lengthAdjust="spacingAndGlyphs" fill="#151515" stroke="#151515" stroke-width="0.3">0</text>
<text x="896.1" y="609.15" font-size="13.2" textLength="6.83" lengthAdjust="spacingAndGlyphs" fill="#151515" stroke="#151515" stroke-width="0.3">0</text>
<text x="608.9000000000001" y="558.12" font-size="13.2" text-anchor="end" textLength="6.83" lengthAdjust="spacingAndGlyphs" fill="#151515" stroke="#151515" stroke-width="0.3">2</text>
<text x="896.1" y="558.12" font-size="13.2" textLength="6.83" lengthAdjust="spacingAndGlyphs" fill="#151515" stroke="#151515" stroke-width="0.3">2</text>
<text x="608.9000000000001" y="507.10" font-size="13.2" text-anchor="end" textLength="6.83" lengthAdjust="spacingAndGlyphs" fill="#151515" stroke="#151515" stroke-width="0.3">4</text>
<text x="896.1" y="507.10" font-size="13.2" textLength="6.83" lengthAdjust="spacingAndGlyphs" fill="#151515" stroke="#151515" stroke-width="0.3">4</text>
<text x="608.9000000000001" y="456.07" font-size="13.2" text-anchor="end" textLength="6.83" lengthAdjust="spacingAndGlyphs" fill="#151515" stroke="#151515" stroke-width="0.3">6</text>
<text x="896.1" y="456.07" font-size="13.2" textLength="6.83" lengthAdjust="spacingAndGlyphs" fill="#151515" stroke="#151515" stroke-width="0.3">6</text>
<text x="608.9000000000001" y="405.05" font-size="13.2" text-anchor="end" textLength="6.83" lengthAdjust="spacingAndGlyphs" fill="#151515" stroke="#151515" stroke-width="0.3">8</text>
<text x="896.1" y="405.05" font-size="13.2" textLength="6.83" lengthAdjust="spacingAndGlyphs" fill="#151515" stroke="#151515" stroke-width="0.3">8</text>
<text x="617.10" y="624.70" font-size="13.2" text-anchor="middle" textLength="27.27" lengthAdjust="spacingAndGlyphs" fill="#151515" stroke="#151515" stroke-width="0.3">2017</text>
<text x="672.30" y="624.70" font-size="13.2" text-anchor="middle" textLength="27.27" lengthAdjust="spacingAndGlyphs" fill="#151515" stroke="#151515" stroke-width="0.3">2019</text>
<text x="727.50" y="624.70" font-size="13.2" text-anchor="middle" textLength="27.27" lengthAdjust="spacingAndGlyphs" fill="#151515" stroke="#151515" stroke-width="0.3">2021</text>
<text x="782.70" y="624.70" font-size="13.2" text-anchor="middle" textLength="27.27" lengthAdjust="spacingAndGlyphs" fill="#151515" stroke="#151515" stroke-width="0.3">2023</text>
<text x="837.90" y="624.70" font-size="13.2" text-anchor="middle" textLength="27.27" lengthAdjust="spacingAndGlyphs" fill="#151515" stroke="#151515" stroke-width="0.3">2025</text>
<path d="M617.7 553.38h3M887.5 553.38h-3M617.7 502.35h3M887.5 502.35h-3M617.7 451.32h3M887.5 451.32h-3M672.90 604.4v-3.2M728.10 604.4v-3.2M783.30 604.4v-3.2M838.50 604.4v-3.2" stroke="#3c3c3c" stroke-width="1" fill="none"/>
<path d="M976.50 540.62H1004.10M1004.10 553.38H1245.4" stroke="#e23030" stroke-width="0.95" fill="none"/>
<svg x="976.5" y="398.3" width="268.9000000000001" height="208.09999999999997" viewBox="976.5 398.3 268.9000000000001 208.09999999999997">
<polyline points="976.50,556.69 983.40,564.09 990.30,579.40 997.20,576.34 1004.10,575.32 1011.00,571.74 1017.90,562.05 1024.80,553.38 1031.70,540.62 1038.60,543.94 1045.50,549.80 1052.40,554.65 1059.30,542.91 1066.20,527.86 1073.10,517.66 1080.00,523.02 1086.90,535.01 1093.80,563.84 1100.70,577.61 1107.60,569.96 1114.50,557.46 1121.40,518.68 1128.30,481.43 1135.20,456.68 1142.10,444.95 1149.00,433.47" fill="none" stroke="#0b18ee" stroke-width="2.3" stroke-linejoin="round" stroke-linecap="butt"/>
<polyline points="1149.00,433.60 1155.90,443.00 1162.80,452.10 1169.70,463.80 1176.60,482.30 1183.50,492.00 1190.40,499.80 1197.30,507.20 1204.20,513.80 1211.10,520.20 1218.00,526.00 1224.90,531.30 1231.80,536.30 1238.70,540.20 1245.60,544.10" fill="none" stroke="#0b18ee" stroke-width="2.3" stroke-dasharray="7.2 4.4" stroke-linejoin="round"/>
<polyline points="1149.00,434.20 1155.90,443.30 1162.80,453.10 1169.70,466.70 1176.60,485.20 1183.50,496.80 1190.40,504.00 1197.30,511.00 1204.20,517.90 1211.10,524.10 1218.00,529.90 1224.90,535.20 1231.80,540.20 1238.70,544.50 1245.60,548.00" fill="none" stroke="#e8823a" stroke-width="2.2" stroke-dasharray="1.8 1.3" stroke-linejoin="round"/>
</svg>
<rect x="976.5" y="400.3" width="268.9000000000001" height="204.09999999999997" fill="none" stroke="#3c3c3c" stroke-width="1.1"/>
<text x="967.7" y="609.15" font-size="13.2" text-anchor="end" textLength="6.83" lengthAdjust="spacingAndGlyphs" fill="#151515" stroke="#151515" stroke-width="0.3">0</text>
<text x="1254.0" y="609.15" font-size="13.2" textLength="6.83" lengthAdjust="spacingAndGlyphs" fill="#151515" stroke="#151515" stroke-width="0.3">0</text>
<text x="967.7" y="558.12" font-size="13.2" text-anchor="end" textLength="6.83" lengthAdjust="spacingAndGlyphs" fill="#151515" stroke="#151515" stroke-width="0.3">2</text>
<text x="1254.0" y="558.12" font-size="13.2" textLength="6.83" lengthAdjust="spacingAndGlyphs" fill="#151515" stroke="#151515" stroke-width="0.3">2</text>
<text x="967.7" y="507.10" font-size="13.2" text-anchor="end" textLength="6.83" lengthAdjust="spacingAndGlyphs" fill="#151515" stroke="#151515" stroke-width="0.3">4</text>
<text x="1254.0" y="507.10" font-size="13.2" textLength="6.83" lengthAdjust="spacingAndGlyphs" fill="#151515" stroke="#151515" stroke-width="0.3">4</text>
<text x="967.7" y="456.07" font-size="13.2" text-anchor="end" textLength="6.83" lengthAdjust="spacingAndGlyphs" fill="#151515" stroke="#151515" stroke-width="0.3">6</text>
<text x="1254.0" y="456.07" font-size="13.2" textLength="6.83" lengthAdjust="spacingAndGlyphs" fill="#151515" stroke="#151515" stroke-width="0.3">6</text>
<text x="967.7" y="405.05" font-size="13.2" text-anchor="end" textLength="6.83" lengthAdjust="spacingAndGlyphs" fill="#151515" stroke="#151515" stroke-width="0.3">8</text>
<text x="1254.0" y="405.05" font-size="13.2" textLength="6.83" lengthAdjust="spacingAndGlyphs" fill="#151515" stroke="#151515" stroke-width="0.3">8</text>
<text x="975.90" y="624.70" font-size="13.2" text-anchor="middle" textLength="27.27" lengthAdjust="spacingAndGlyphs" fill="#151515" stroke="#151515" stroke-width="0.3">2017</text>
<text x="1031.10" y="624.70" font-size="13.2" text-anchor="middle" textLength="27.27" lengthAdjust="spacingAndGlyphs" fill="#151515" stroke="#151515" stroke-width="0.3">2019</text>
<text x="1086.30" y="624.70" font-size="13.2" text-anchor="middle" textLength="27.27" lengthAdjust="spacingAndGlyphs" fill="#151515" stroke="#151515" stroke-width="0.3">2021</text>
<text x="1141.50" y="624.70" font-size="13.2" text-anchor="middle" textLength="27.27" lengthAdjust="spacingAndGlyphs" fill="#151515" stroke="#151515" stroke-width="0.3">2023</text>
<text x="1196.70" y="624.70" font-size="13.2" text-anchor="middle" textLength="27.27" lengthAdjust="spacingAndGlyphs" fill="#151515" stroke="#151515" stroke-width="0.3">2025</text>
<path d="M976.5 553.38h3M1245.4 553.38h-3M976.5 502.35h3M1245.4 502.35h-3M976.5 451.32h3M1245.4 451.32h-3M1031.70 604.4v-3.2M1086.90 604.4v-3.2M1142.10 604.4v-3.2M1197.30 604.4v-3.2" stroke="#3c3c3c" stroke-width="1" fill="none"/>
<line x1="719.9" y1="650.7" x2="736.8" y2="650.7" stroke="#0b18ee" stroke-width="2.6" stroke-dasharray="7.3 5.6"/>
<text x="736.9" y="655.2" font-size="13.2" textLength="93.3" lengthAdjust="spacingAndGlyphs" fill="#151515" stroke="#151515" stroke-width="0.3">Anslag PPR 3/23</text>
<line x1="870" y1="650.7" x2="886.5" y2="650.7" stroke="#e8823a" stroke-width="2.2" stroke-dasharray="1.8 1.3"/>
<text x="888" y="655.2" font-size="13.2" textLength="93.3" lengthAdjust="spacingAndGlyphs" fill="#151515" stroke="#151515" stroke-width="0.3">Anslag PPR 2/23</text>
<line x1="1021" y1="650.7" x2="1038" y2="650.7" stroke="#e23030" stroke-width="1.1"/>
<text x="1039" y="655.2" font-size="13.2" textLength="71.5" lengthAdjust="spacingAndGlyphs" fill="#151515" stroke="#151515" stroke-width="0.3">Inflasjonsmål</text>
<text x="586.97" y="703" font-size="11.9" textLength="38.25" lengthAdjust="spacingAndGlyphs" fill="#1c2340" stroke="#1c2340" stroke-width="0.25">Kilder:</text>
<text x="626.6" y="703" font-size="11.9" textLength="52.44" lengthAdjust="spacingAndGlyphs" fill="#1c2340" stroke="#1c2340" stroke-width="0.25">Statistisk</text>
<text x="684.4" y="703" font-size="11.9" textLength="64.91" lengthAdjust="spacingAndGlyphs" fill="#1c2340" stroke="#1c2340" stroke-width="0.25">sentralbyrå</text>
<text x="753.5" y="703" font-size="11.9" textLength="13.79" lengthAdjust="spacingAndGlyphs" fill="#1c2340" stroke="#1c2340" stroke-width="0.25">og</text>
<text x="769.18" y="703" font-size="11.9" textLength="43.11" lengthAdjust="spacingAndGlyphs" fill="#1c2340" stroke="#1c2340" stroke-width="0.25">Norges</text>
<text x="815.62" y="703" font-size="11.9" textLength="29.19" lengthAdjust="spacingAndGlyphs" fill="#1c2340" stroke="#1c2340" stroke-width="0.25">Bank</text>
</svg></body></html>
